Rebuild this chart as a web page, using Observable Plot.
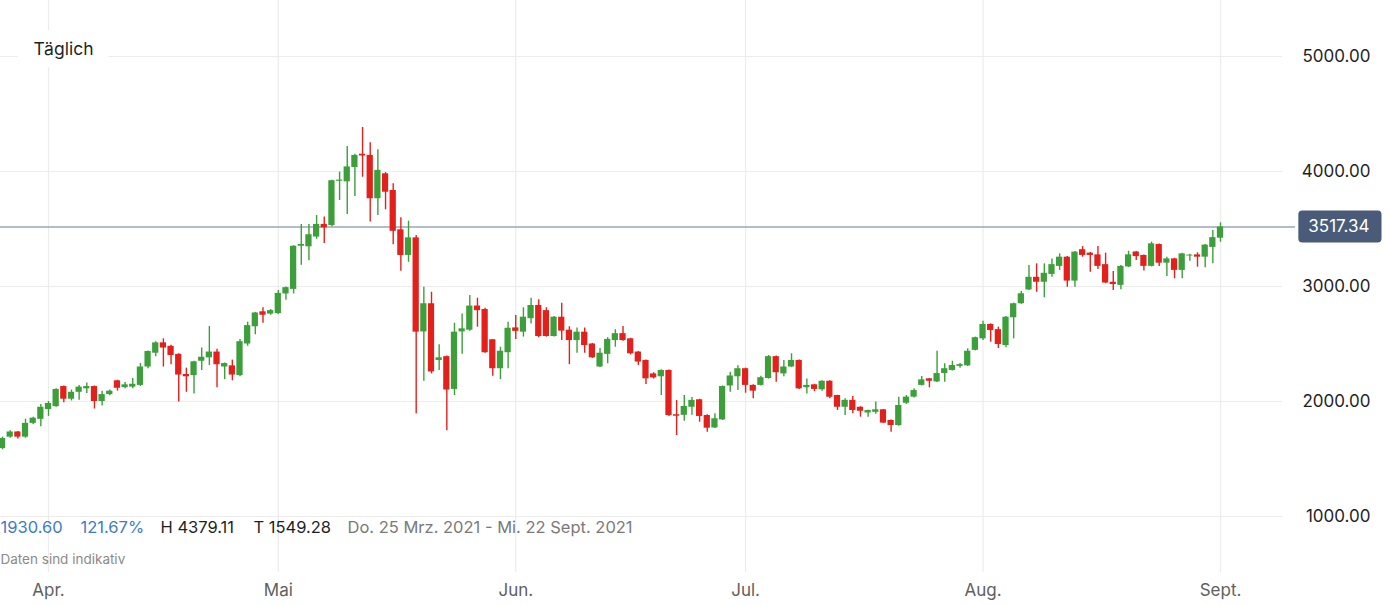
<!DOCTYPE html>
<html>
<head>
<meta charset="utf-8">
<script src="https://cdn.jsdelivr.net/npm/d3@7"></script>
<script src="https://cdn.jsdelivr.net/npm/@observablehq/plot@0.6"></script>
<style>
  html, body { margin: 0; padding: 0; background: #ffffff; }
  #chart { width: 1390px; height: 605px; overflow: hidden; }
</style>
</head>
<body>
<div id="chart"></div>
<script>
// ---- Data (daily candles) ----
const dates = [
  "2021-03-26","2021-03-27","2021-03-28","2021-03-29","2021-03-30","2021-03-31",
  "2021-04-01","2021-04-02","2021-04-03","2021-04-04","2021-04-05","2021-04-06","2021-04-07","2021-04-08","2021-04-09","2021-04-10",
  "2021-04-11","2021-04-12","2021-04-13","2021-04-14","2021-04-15","2021-04-16","2021-04-17","2021-04-18","2021-04-19","2021-04-20",
  "2021-04-21","2021-04-22","2021-04-23","2021-04-24","2021-04-25","2021-04-26","2021-04-27","2021-04-28","2021-04-29","2021-04-30",
  "2021-05-01","2021-05-02","2021-05-03","2021-05-04","2021-05-05","2021-05-06","2021-05-07","2021-05-08","2021-05-09","2021-05-10",
  "2021-05-11","2021-05-12","2021-05-13","2021-05-14","2021-05-15","2021-05-16","2021-05-17","2021-05-18","2021-05-19","2021-05-20",
  "2021-05-21","2021-05-22","2021-05-23","2021-05-24","2021-05-25","2021-05-26","2021-05-27","2021-05-28","2021-05-29","2021-05-30",
  "2021-05-31",
  "2021-06-01","2021-06-02","2021-06-03","2021-06-04","2021-06-05","2021-06-06","2021-06-07","2021-06-08","2021-06-09","2021-06-10",
  "2021-06-11","2021-06-12","2021-06-13","2021-06-14","2021-06-15","2021-06-16","2021-06-17","2021-06-18","2021-06-19","2021-06-20",
  "2021-06-21","2021-06-22","2021-06-23","2021-06-24","2021-06-25","2021-06-26","2021-06-27","2021-06-28","2021-06-29","2021-06-30",
  "2021-07-01","2021-07-02","2021-07-03","2021-07-04","2021-07-05","2021-07-06","2021-07-07","2021-07-08","2021-07-09","2021-07-10",
  "2021-07-11","2021-07-12","2021-07-13","2021-07-14","2021-07-15","2021-07-16","2021-07-17","2021-07-18","2021-07-19","2021-07-20",
  "2021-07-21","2021-07-22","2021-07-23","2021-07-24","2021-07-25","2021-07-26","2021-07-27","2021-07-28","2021-07-29","2021-07-30",
  "2021-07-31",
  "2021-08-01","2021-08-02","2021-08-03","2021-08-04","2021-08-05","2021-08-06","2021-08-07","2021-08-08","2021-08-09","2021-08-10",
  "2021-08-11","2021-08-12","2021-08-13","2021-08-14","2021-08-15","2021-08-16","2021-08-17","2021-08-18","2021-08-19","2021-08-20",
  "2021-08-21","2021-08-22","2021-08-23","2021-08-24","2021-08-25","2021-08-26","2021-08-27","2021-08-28","2021-08-29","2021-08-30",
  "2021-08-31",
  "2021-09-01"
];

const open = [
  1591,1690,1735,1690,1810,1845,
  1930,1955,2130,2020,2080,2110,2130,2000,2060,2180, 2120,2125,2140,2300,2420,2510,2480,2410,2235,2225, 2350,2380,2430,2300,2310,2225,2500,2650,2780,2760,
  2765,2935,2975,3350,3345,3430,3540,3530,3915,3910, 4035,4150,4140,3763,3980,3835,3493,3270,3423,2605, 2850,2357,2390,2105,2605,2620,2830,2800,2537,2285, 2424,
  2640,2603,2720,2835,2790,2565,2733,2620,2530,2603, 2500,2300,2410,2530,2590,2545,2430,2357,2240,2215, 2270,1885,1880,1950,2015,1878,1770,1840,2135,2215,
  2285,2140,2140,2200,2390,2240,2300,2357,2120,2145, 2102,2176,2052,1950,2010,1950,1900,1906,1928,1835, 1791,1985,2038,2140,2197,2170,2243,2270,2305,2310, 2445,
  2545,2670,2625,2487,2728,2850,2970,3080,3037,3105, 3175,3255,3047,3320,3290,3275,3190,3037,3010,3170, 3300,3270,3175,3365,3203,3240,3140,3265,3275,3255, 3340,
  3420
];

const high = [
  1690,1745,1740,1846,1862,1975,
  2000,2110,2135,2100,2140,2160,2135,2090,2100,2185, 2165,2200,2330,2440,2520,2545,2490,2415,2290,2350, 2465,2652,2455,2335,2360,2540,2690,2775,2815,2800,
  2965,2995,3355,3540,3540,3617,3605,3925,3995,4217, 4150,4383,4250,4190,3990,3893,3597,3568,3443,2994, 2950,2493,2395,2681,2760,2922,2898,2810,2540,2472, 2690,
  2748,2815,2898,2884,2815,2740,2855,2650,2640,2640, 2505,2460,2555,2624,2652,2550,2435,2360,2250,2275, 2275,2009,2052,2035,2020,1885,1893,2135,2255,2310,
  2290,2145,2220,2400,2395,2357,2415,2360,2195,2150, 2180,2180,2055,2024,2043,1955,1925,1995,1930,1840, 2038,2052,2110,2217,2200,2437,2328,2350,2330,2458, 2560,
  2698,2675,2647,2740,2855,2957,3183,3197,3197,3240, 3284,3260,3305,3347,3295,3347,3290,3130,3183,3307, 3305,3275,3386,3370,3255,3245,3290,3280,3293,3365, 3487,
  3554
];

const low = [
  1580,1680,1675,1680,1800,1780,
  1870,1950,1990,2005,2010,2070,1935,1960,2050,2090, 2110,2110,2130,2285,2390,2300,2320,1995,2080,2065, 2270,2313,2120,2190,2180,2215,2480,2580,2680,2750,
  2755,2880,2935,3185,3225,3410,3375,3520,3748,3626, 3783,3950,3560,3617,3667,3362,3133,3211,1893,2176, 2240,2270,1745,2052,2410,2610,2646,2420,2220,2190, 2285,
  2540,2560,2675,2555,2560,2560,2530,2320,2420,2420, 2375,2295,2328,2472,2525,2405,2313,2148,2195,2052, 1870,1704,1829,1880,1820,1733,1765,1835,2080,2095,
  2072,2024,2135,2195,2167,2215,2295,2105,2065,2085, 2090,2024,1922,1878,1893,1864,1864,1890,1810,1733, 1785,1975,2030,2135,2119,2165,2168,2265,2290,2305, 2440,
  2530,2516,2460,2467,2545,2845,2965,2950,2902,3080, 3140,2994,2994,3255,3125,3148,3025,2965,2971,3165, 3226,3134,3170,3174,3087,3067,3067,3220,3168,3162, 3197,
  3385
];

const close = [
  1678,1735,1690,1810,1855,1950,
  1983,2105,2020,2080,2125,2130,2000,2060,2090,2115, 2145,2150,2300,2435,2510,2465,2400,2230,2215,2345, 2385,2430,2320,2330,2230,2520,2660,2770,2750,2790,
  2940,2990,3350,3365,3450,3540,3510,3920,3925,4040, 4140,4135,3763,4010,3820,3480,3270,3423,2603,2850, 2257,2380,2100,2603,2632,2830,2790,2424,2285,2437, 2637,
  2610,2733,2835,2565,2565,2733,2612,2530,2603,2487, 2380,2420,2540,2590,2530,2415,2343,2197,2205,2270, 1878,1872,1957,2010,1870,1768,1850,2130,2222,2285,
  2140,2090,2207,2390,2250,2300,2357,2110,2140,2105, 2176,2037,1950,2010,1922,1915,1922,1928,1812,1791, 1965,2038,2095,2188,2176,2243,2285,2313,2320,2437, 2555,
  2670,2617,2496,2733,2850,2937,3080,3037,3115,3190, 3255,3047,3299,3270,3270,3175,3030,3017,3175,3275, 3260,3175,3371,3203,3240,3140,3284,3273,3255,3360, 3425,
  3517.34
];

const yTicks = [1000, 2000, 3000, 4000, 5000];
const monthTicks = ["2021-04-01","2021-05-01","2021-06-01","2021-07-01","2021-08-01","2021-09-01"];
const monthLabels = ["Apr.","Mai","Jun.","Jul.","Aug.","Sept."];
const lastPrice = [3517.34];
const periodLabel = "Täglich";
const statChange = "1930.60";
const statPercent = "121.67%";
const statHigh = "H 4379.11";
const statLow = "T 1549.28";
const statRange = "Do. 25 Mrz. 2021 - Mi. 22 Sept. 2021";
const footnote = "Daten sind indikativ";

// ---- Build table ----
const candles = dates.map((d, i) => ({
  date: new Date(d + "T00:00:00Z"),
  open: open[i], high: high[i], low: low[i], close: close[i]
}));
const months = monthTicks.map((d, i) => ({date: new Date(d + "T00:00:00Z"), label: monthLabels[i]}));

const GREEN = "#3c9f3b";
const RED = "#e2211d";
const GRID = "#ececec";
const HALF = 9.8 * 3600 * 1000; // half body width in ms

const col = d => d.close >= d.open ? GREEN : RED;

const chart = Plot.plot({
  width: 1390,
  height: 605,
  marginTop: 0,
  marginLeft: 0,
  marginRight: 20,
  marginBottom: 15,
  style: {fontFamily: "Inter, 'Noto Sans', sans-serif", background: "#ffffff", overflow: "visible"},
  x: {type: "utc", domain: [months[0].date, months[months.length - 1].date], range: [48, 1220], axis: null},
  y: {domain: [1000, 5000], range: [516, 56], axis: null},
  marks: [
    // grid
    Plot.ruleX(months, {x: "date", stroke: GRID, strokeWidth: 1.2, insetBottom: 18}),
    Plot.ruleY(yTicks, {y: d => d, stroke: GRID, strokeWidth: 1.2, insetRight: 88}),
    // last price line
    Plot.ruleY(lastPrice, {y: d => d, stroke: "#9aa6b7", strokeWidth: 1.3, insetRight: 75}),
    // wicks
    Plot.ruleX(candles, {x: "date", y1: "low", y2: "high", stroke: col, strokeWidth: 1.4}),
    // bodies
    Plot.rect(candles, {
      x1: d => new Date(+d.date - HALF),
      x2: d => new Date(+d.date + HALF),
      y1: "open", y2: "close",
      fill: col
    }),
    // y labels (right)
    Plot.text(yTicks, {y: d => d, text: d => d.toFixed(2), frameAnchor: "right", textAnchor: "end", fontSize: 17, fill: "#1f1f1f"}),
    // last price badge text
    Plot.text(lastPrice, {y: d => d, text: d => d.toFixed(2), frameAnchor: "right", textAnchor: "end", dx: -1, fontSize: 17, fill: "#ffffff"}),
    // month labels
    Plot.text(months, {x: "date", text: "label", frameAnchor: "bottom", lineAnchor: "middle", fontSize: 17, fill: "#606060"}),
    // period label
    Plot.text([periodLabel], {text: d => d, frameAnchor: "top-left", dx: 33, dy: 49, textAnchor: "start", lineAnchor: "middle", fontSize: 17.5, fill: "#1f1f1f"}),
    // stats line
    Plot.text([statChange], {text: d => d, frameAnchor: "top-left", dx: 0, dy: 527, textAnchor: "start", lineAnchor: "middle", fontSize: 16.5, fill: "#3b7cc4"}),
    Plot.text([statPercent], {text: d => d, frameAnchor: "top-left", dx: 80, dy: 527, textAnchor: "start", lineAnchor: "middle", fontSize: 16.5, fill: "#3b7cc4"}),
    Plot.text([statHigh], {text: d => d, frameAnchor: "top-left", dx: 160, dy: 527, textAnchor: "start", lineAnchor: "middle", fontSize: 16.5, fill: "#1f1f1f"}),
    Plot.text([statLow], {text: d => d, frameAnchor: "top-left", dx: 253, dy: 527, textAnchor: "start", lineAnchor: "middle", fontSize: 16.5, fill: "#1f1f1f"}),
    Plot.text([statRange], {text: d => d, frameAnchor: "top-left", dx: 347, dy: 527, textAnchor: "start", lineAnchor: "middle", fontSize: 16.5, fill: "#7a7a7a"}),
    Plot.text([footnote], {text: d => d, frameAnchor: "top-left", dx: 0, dy: 559, textAnchor: "start", lineAnchor: "middle", fontSize: 13.5, fill: "#8a8a8a"})
  ]
});

document.getElementById("chart").appendChild(chart);

// ---- backgrounds behind the period label and the price badge ----
const svg = d3.select(chart);
svg.selectAll("g").each(function() {
  const g = d3.select(this);
  const texts = g.selectChildren("text");
  if (texts.size() !== 1) return;
  const node = texts.node();
  const t = node.textContent;
  const tr = node.getAttribute("transform");
  let pad = null, fill = null, rx = 0;
  if (t === periodLabel) { pad = [16, 15, 8, 8]; fill = "#ffffff"; }
  else if (t === lastPrice[0].toFixed(2) && g.attr("fill") === "#ffffff") { pad = [10, 12, 6, 6]; fill = "#4a5a79"; rx = 4; }
  if (!pad) return;
  const b = node.getBBox();
  const r = g.insert("rect", () => node)
    .attr("x", b.x - pad[0]).attr("y", b.y - pad[2])
    .attr("width", b.width + pad[0] + pad[1]).attr("height", b.height + pad[2] + pad[3])
    .attr("rx", rx).attr("fill", fill);
  if (tr) r.attr("transform", tr);
});
</script>
</body>
</html>
